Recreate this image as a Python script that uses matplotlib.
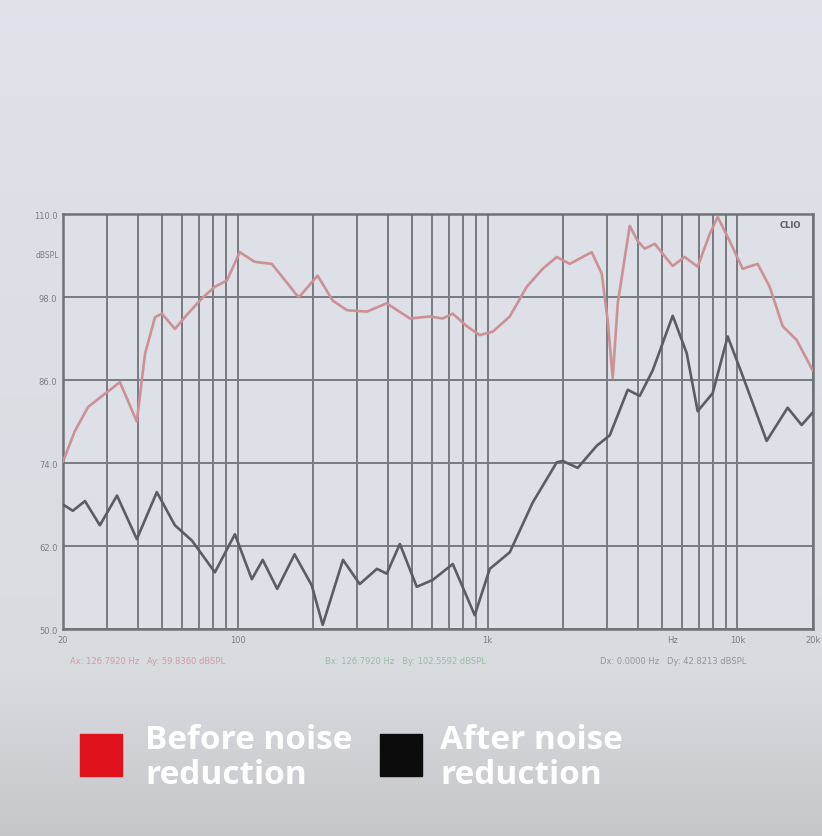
import numpy as np
import matplotlib
matplotlib.use("Agg")
import matplotlib.pyplot as plt
from matplotlib.patches import Rectangle

# frequency response, before noise reduction (Hz, dBSPL)
before_freq = [20, 22.3, 25.2, 29.4, 33.8, 39.5, 42.6, 46.7, 49.8, 56.1, 63.2, 71.9, 81.1, 90.6,
               102, 117, 137, 155, 174, 177, 209, 240, 274, 329, 395, 489, 588, 662, 726, 826,
               931, 1050, 1228, 1436, 1664, 1892, 2134, 2612, 2864, 3027, 3170, 3320, 3707,
               3991, 4256, 4667, 5508, 6152, 6934, 7745, 8337, 9311, 10496, 12051, 13459,
               15172, 17260, 20000]
before_db = [74.2, 78.6, 82.1, 84.0, 85.7, 80.0, 89.8, 95.1, 95.6, 93.4, 95.6, 97.8, 99.5, 100.4,
             104.5, 103.1, 102.8, 100.4, 98.1, 98.1, 101.1, 97.5, 96.1, 95.9, 97.1, 94.9, 95.2,
             94.9, 95.6, 93.8, 92.5, 93.0, 95.2, 99.5, 102.1, 103.8, 102.8, 104.5, 101.4, 94.6,
             86.3, 97.1, 108.3, 106.1, 105.0, 105.7, 102.5, 103.8, 102.4, 107.1, 109.6, 106.1,
             102.1, 102.8, 99.5, 93.8, 91.8, 87.4]

# after noise reduction
after_freq = [20, 21.9, 24.5, 28.1, 32.9, 39.5, 47.5, 56.1, 65.6, 81.1, 97.5, 114, 126, 144,
              169, 198, 219, 264, 308, 361, 395, 446, 521, 604, 726, 889, 1021, 1228, 1517,
              1892, 2000, 2296, 2735, 3084, 3641, 4064, 4582, 5508, 6266, 6934, 7962, 9142,
              10400, 13092, 15887, 18072, 20000]
after_db = [68.0, 67.1, 68.5, 65.0, 69.3, 63.0, 69.8, 65.0, 62.8, 58.2, 63.7, 57.2, 60.0, 55.8,
            60.8, 56.3, 50.6, 60.0, 56.5, 58.7, 58.0, 62.3, 56.1, 57.1, 59.4, 52.0, 58.7, 61.1,
            68.3, 74.1, 74.3, 73.3, 76.5, 78.0, 84.6, 83.7, 87.4, 95.3, 89.9, 81.5, 84.1, 92.3,
            87.0, 77.2, 82.0, 79.5, 81.3]

y_ticks = [50, 62, 74, 86, 98, 110]
x_ticks = [20, 100, 1000, 5500, 10000, 20000]
x_labels = ["20", "100", "1k", "Hz", "10k", "20k"]

fig = plt.figure(figsize=(8.22, 8.37), dpi=100)

# photo-like background gradient (top to bottom)
bg = fig.add_axes([0, 0, 1, 1], zorder=-10)
t = np.linspace(0, 1, 400)
top = np.array([0.875, 0.886, 0.915])
mid = np.array([0.85, 0.86, 0.88])
bot = np.array([0.775, 0.78, 0.795])
cols = np.array([top + (mid - top) * (v / 0.8) if v < 0.8 else mid + (bot - mid) * ((v - 0.8) / 0.2)
                 for v in t])
grad = np.repeat(cols[:, None, :], 4, axis=1)
bg.imshow(grad, aspect="auto", extent=[0, 1, 0, 1])
bg.set_xlim(0, 1)
bg.set_ylim(0, 1)
bg.axis("off")

ax = fig.add_axes([0.0766, 0.2473, 0.912, 0.4957])
ax.set_facecolor("#dde0e6")
ax.plot(before_freq, before_db, color="#cc9095", lw=1.9, solid_joinstyle="round",
        solid_capstyle="round", zorder=3)
ax.plot(after_freq, after_db, color="#5a5d62", lw=1.9, solid_joinstyle="round",
        solid_capstyle="round", zorder=3)

ax.set_xscale("log")
ax.set_xlim(20, 20000)
ax.set_ylim(50, 110)
ax.set_yticks(y_ticks)
ax.set_yticklabels(["%.1f" % v for v in y_ticks])
ax.set_xticks(x_ticks)
ax.set_xticklabels(x_labels)
ax.xaxis.set_minor_locator(matplotlib.ticker.LogLocator(base=10, subs=np.arange(2, 10)))
ax.xaxis.set_minor_formatter(matplotlib.ticker.NullFormatter())
ax.grid(True, which="both", axis="x", color="#787b80", lw=1.4)
ax.grid(True, which="major", axis="y", color="#787b80", lw=1.4)
# no grid line under the "Hz" label
ax.get_xgridlines()[3].set_visible(False)
ax.tick_params(axis="both", which="both", length=0, labelsize=6, colors="#7a7d83", pad=4)
for s in ax.spines.values():
    s.set_color("#6f7277")
    s.set_linewidth(1.8)

fig.text(0.043, 1 - 255 / 837, "dBSPL", fontsize=5.5, color="#7a7d83", va="center")
ax.text(0.985, 0.985, "CLIO", transform=ax.transAxes, fontsize=6, color="#5a5d62",
        fontweight="bold", ha="right", va="top")

# cursor readouts
fig.text(70 / 822, 1 - 661 / 837, "Ax: 126.7920 Hz   Ay: 59.8360 dBSPL", fontsize=6,
         color="#d59a9e", va="center")
fig.text(325 / 822, 1 - 661 / 837, "Bx: 126.7920 Hz   By: 102.5592 dBSPL", fontsize=6,
         color="#9dbba5", va="center")
fig.text(600 / 822, 1 - 661 / 837, "Dx: 0.0000 Hz   Dy: 42.8213 dBSPL", fontsize=6,
         color="#92959b", va="center")

# legend
fig.patches.append(Rectangle((80 / 822, 1 - 777 / 837), 42 / 822, 42 / 837,
                             transform=fig.transFigure, color="#e0131d"))
fig.patches.append(Rectangle((380 / 822, 1 - 777 / 837), 42 / 822, 42 / 837,
                             transform=fig.transFigure, color="#0c0c0c"))
fig.text(145 / 822, 1 - 758 / 837, "Before noise\nreduction", fontsize=24, color="white",
         fontweight="bold", family="Open Sans", va="center", linespacing=1.1)
fig.text(440 / 822, 1 - 758 / 837, "After noise\nreduction", fontsize=24, color="white",
         fontweight="bold", family="Open Sans", va="center", linespacing=1.1)

fig.savefig("out.png", dpi=100)
